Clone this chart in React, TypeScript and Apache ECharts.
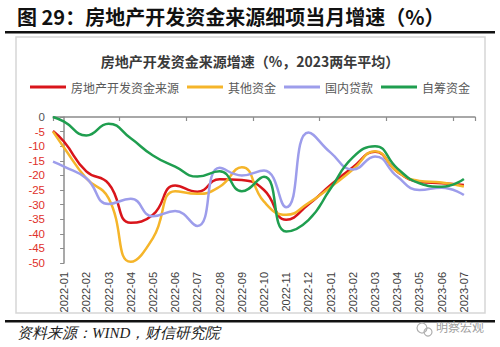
import React, { useEffect, useRef } from "react";
import * as echarts from "echarts";

// Month labels on the category axis
const categories = [
  "2022-01", "2022-02", "2022-03", "2022-04", "2022-05", "2022-06", "2022-07",
  "2022-08", "2022-09", "2022-10", "2022-11", "2022-12", "2023-01", "2023-02",
  "2023-03", "2023-04", "2023-05", "2023-06", "2023-07",
];

// Point positions (category index); the first point sits on the left plot edge
const pointPos = [-0.5, 0, 1, 2, 3, 4, 5, 6, 7, 8, 9, 10, 11, 12, 13, 14, 15, 16, 17, 18];

const seriesNames = ["房地产开发资金来源", "其他资金", "国内贷款", "自筹资金"];

const totalFunds = [-4.8, -8.5, -18.6, -22.8, -36.2, -33.5, -23.5, -25.6, -21.3, -21.6, -25.0, -35.2, -30.0, -23.3, -17.2, -11.9, -18.7, -22.2, -22.7, -23.3];
const otherFunds = [-5.0, -10.5, -21.0, -27.8, -49.6, -41.5, -25.4, -26.3, -23.9, -17.2, -29.0, -33.5, -29.5, -24.0, -18.0, -11.7, -18.7, -21.9, -22.4, -23.8];
const domesticLoans = [-15.3, -17.0, -21.0, -29.8, -28.0, -34.0, -32.2, -37.3, -17.4, -20.0, -18.3, -30.9, -5.3, -12.2, -18.0, -13.5, -20.4, -25.0, -24.2, -26.7];
const selfRaised = [0, -1.6, -6.3, -2.3, -7.3, -13.2, -17.0, -20.4, -18.6, -25.4, -20.5, -39.2, -35.3, -24.5, -13.8, -10.0, -17.6, -22.7, -23.9, -21.2];

const colors = ["#d9151b", "#f5b52a", "#9d9deb", "#1f9e4f"];

const yMin = -50;
const yMax = 0;
const yStep = 5;

export default function App() {
  const ref = useRef<HTMLDivElement>(null);

  useEffect(() => {
    if (!ref.current) return;
    const chart = echarts.init(ref.current, undefined, { renderer: "svg" });
    const allValues = [totalFunds, otherFunds, domesticLoans, selfRaised];
    const axisGray = "#8c8c8c";
    chart.setOption({
      animation: false,
      backgroundColor: "#ffffff",
      color: colors,
      title: {
        text: "房地产开发资金来源增速（%，2023两年平均）",
        left: "center",
        top: 49,
        textStyle: {
          fontSize: 14,
          fontWeight: "bold",
          color: "#3a3a3a",
          fontFamily: "'Noto Sans CJK SC', sans-serif",
        },
      },
      legend: {
        data: seriesNames,
        top: 76,
        left: "center",
        icon: "rect",
        itemWidth: 36,
        itemHeight: 3,
        itemGap: 8,
        textStyle: {
          fontSize: 12,
          color: "#595959",
          fontFamily: "'Noto Sans CJK SC', sans-serif",
        },
      },
      grid: { left: 53, right: 25, top: 117, height: 146, containLabel: false },
      xAxis: [
        {
          type: "category",
          data: categories,
          position: "top",
          boundaryGap: true,
          axisLine: { show: true, onZero: false, lineStyle: { color: axisGray, width: 1.5 } },
          axisTick: { show: true, inside: true, length: 4, lineStyle: { color: axisGray, width: 1.2 } },
          axisLabel: { show: false },
          splitLine: { show: false },
        },
        {
          type: "category",
          data: categories,
          position: "bottom",
          boundaryGap: true,
          axisLine: { show: false, onZero: false },
          axisTick: { show: false },
          axisLabel: {
            show: true,
            rotate: 90,
            margin: 9,
            fontSize: 11,
            color: "#404040",
            fontFamily: "'Liberation Sans', Arial, sans-serif",
            interval: 0,
          },
          splitLine: { show: false },
        },
        {
          type: "value",
          min: -0.5,
          max: categories.length - 0.5,
          show: false,
        },
      ],
      yAxis: {
        type: "value",
        min: yMin,
        max: yMax,
        interval: yStep,
        axisLine: { show: true, lineStyle: { color: axisGray, width: 1.5 } },
        axisTick: { show: true, inside: false, length: 4, lineStyle: { color: axisGray } },
        splitLine: { show: false },
        axisLabel: {
          margin: 8,
          fontSize: 11.5,
          fontFamily: "'Liberation Sans', Arial, sans-serif",
          color: (val: any) => (Number(val) < 0 ? "#e0302a" : "#555555"),
        },
      },
      series: allValues.map((vals, k) => ({
        name: seriesNames[k],
        type: "line",
        xAxisIndex: 2,
        data: vals.map((v, i) => [pointPos[i], v]),
        smooth: 0.5,
        showSymbol: false,
        symbol: "none",
        lineStyle: { width: 2.5, color: colors[k] },
        itemStyle: { color: colors[k] },
        z: 2 + k,
      })),
      graphic: [
        {
          type: "text",
          left: 17,
          top: 6,
          style: {
            text: "图 29：房地产开发资金来源细项当月增速（%）",
            fontSize: 20,
            fontWeight: "bold",
            fill: "#111111",
            fontFamily: "'Noto Sans CJK SC', sans-serif",
          },
        },
        {
          type: "rect",
          shape: { x: 5, y: 31, width: 490, height: 2.5 },
          style: { fill: "#111111" },
        },
        {
          type: "rect",
          shape: { x: 16, y: 37, width: 469, height: 276 },
          style: { fill: "none", stroke: "#d6d6d6", lineWidth: 1.5 },
          z: -1,
        },
        {
          type: "rect",
          shape: { x: 5, y: 320, width: 490, height: 2.5 },
          style: { fill: "#111111" },
        },
        {
          type: "text",
          left: 17,
          top: 325,
          style: {
            text: "资料来源：WIND，财信研究院",
            fontSize: 15,
            fontStyle: "italic",
            fill: "#222222",
            fontFamily: "serif",
          },
        },
        {
          type: "circle",
          shape: { cx: 422, cy: 328, r: 5 },
          style: { fill: "none", stroke: "#b0b0b0", lineWidth: 1.2 },
        },
        {
          type: "circle",
          shape: { cx: 428, cy: 332, r: 4 },
          style: { fill: "none", stroke: "#b0b0b0", lineWidth: 1.2 },
        },
        {
          type: "text",
          left: 436,
          top: 320,
          style: {
            text: "明察宏观",
            fontSize: 12,
            fill: "#a0a0a0",
            fontFamily: "'Noto Sans CJK SC', sans-serif",
          },
        },
      ],
    });
    return () => chart.dispose();
  }, []);

  return (
    <div
      ref={ref}
      style={{ position: "absolute", left: 0, top: 0, width: 500, height: 347, background: "#fff" }}
    />
  );
}
